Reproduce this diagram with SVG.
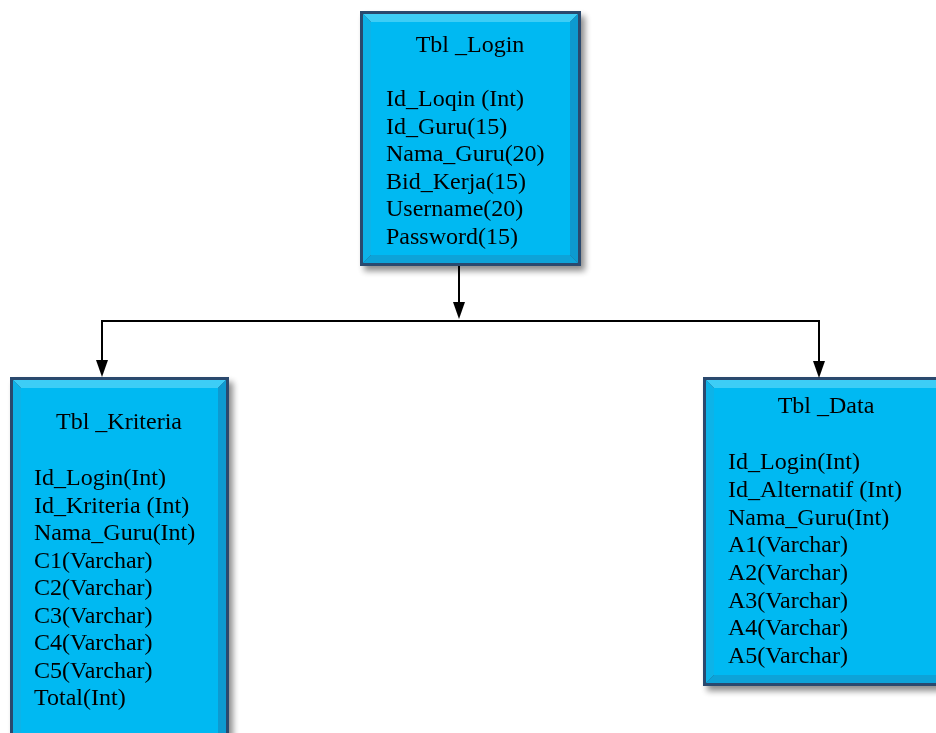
<svg xmlns="http://www.w3.org/2000/svg" width="936" height="733" viewBox="0 0 936 733">
<style>
.t{font-family:"Liberation Serif","Times New Roman",serif;font-size:24px;fill:#000}
.o{fill:#2c4a6e}
.f{fill:#00b9f2}
.bt{fill:#3ccdf6}
.bl{fill:#0fb3e8}
.br{fill:#0a9ad0}
.bb{fill:#0aa3d8}
.c{stroke:#000;stroke-width:2;fill:none}
.a{fill:#000}
</style>
<defs>
<filter id="sh" x="-10%" y="-10%" width="130%" height="130%">
<feGaussianBlur in="SourceAlpha" stdDeviation="3"/>
<feOffset dx="4" dy="5" result="b"/>
<feComponentTransfer><feFuncA type="linear" slope="0.45"/></feComponentTransfer>
<feMerge><feMergeNode/><feMergeNode in="SourceGraphic"/></feMerge>
</filter>
</defs>

<g id="tbl_login" filter="url(#sh)">
<rect class="o" x="360" y="11" width="221" height="255"/>
<polygon class="bt" points="363,14 578,14 570,22 371,22"/>
<polygon class="bl" points="363,14 371,22 371,255 363,263"/>
<polygon class="br" points="578,14 578,263 570,255 570,22"/>
<polygon class="bb" points="363,263 578,263 570,255 371,255"/>
<rect class="f" x="371" y="22" width="199" height="233"/>
<text class="t" x="470" y="52" text-anchor="middle">Tbl _Login</text>
<text class="t" x="386" y="106">Id_Loqin (Int)</text>
<text class="t" x="386" y="134">Id_Guru(15)</text>
<text class="t" x="386" y="161">Nama_Guru(20)</text>
<text class="t" x="386" y="189">Bid_Kerja(15)</text>
<text class="t" x="386" y="216">Username(20)</text>
<text class="t" x="386" y="244">Password(15)</text>
</g>

<g id="tbl_kriteria" filter="url(#sh)">
<rect class="o" x="10" y="377" width="219" height="370"/>
<polygon class="bt" points="13,380 226,380 218,388 21,388"/>
<polygon class="bl" points="13,380 21,388 21,736 13,744"/>
<polygon class="br" points="226,380 226,744 218,736 218,388"/>
<polygon class="bb" points="13,744 226,744 218,736 21,736"/>
<rect class="f" x="21" y="388" width="197" height="348"/>
<text class="t" x="119" y="429" text-anchor="middle">Tbl _Kriteria</text>
<text class="t" x="34" y="485">Id_Login(Int)</text>
<text class="t" x="34" y="513">Id_Kriteria (Int)</text>
<text class="t" x="34" y="540">Nama_Guru(Int)</text>
<text class="t" x="34" y="568">C1(Varchar)</text>
<text class="t" x="34" y="595">C2(Varchar)</text>
<text class="t" x="34" y="623">C3(Varchar)</text>
<text class="t" x="34" y="650">C4(Varchar)</text>
<text class="t" x="34" y="678">C5(Varchar)</text>
<text class="t" x="34" y="705">Total(Int)</text>
</g>

<g id="tbl_data" filter="url(#sh)">
<rect class="o" x="703" y="377" width="245" height="309"/>
<polygon class="bt" points="706,380 945,380 937,388 714,388"/>
<polygon class="bl" points="706,380 714,388 714,675 706,683"/>
<polygon class="bb" points="706,683 945,683 937,675 714,675"/>
<rect class="f" x="714" y="388" width="240" height="287"/>
<text class="t" x="826" y="413" text-anchor="middle">Tbl _Data</text>
<text class="t" x="728" y="469">Id_Login(Int)</text>
<text class="t" x="728" y="497">Id_Alternatif (Int)</text>
<text class="t" x="728" y="525">Nama_Guru(Int)</text>
<text class="t" x="728" y="552">A1(Varchar)</text>
<text class="t" x="728" y="580">A2(Varchar)</text>
<text class="t" x="728" y="608">A3(Varchar)</text>
<text class="t" x="728" y="635">A4(Varchar)</text>
<text class="t" x="728" y="663">A5(Varchar)</text>
</g>

<g id="connectors">
<line class="c" x1="459" y1="266" x2="459" y2="305"/>
<polygon class="a" points="453,302 465,302 459,319"/>
<polyline class="c" points="102,364 102,321 819,321 819,364"/>
<polygon class="a" points="96,360 108,360 102,377"/>
<polygon class="a" points="813,361 825,361 819,378"/>
</g>
</svg>
